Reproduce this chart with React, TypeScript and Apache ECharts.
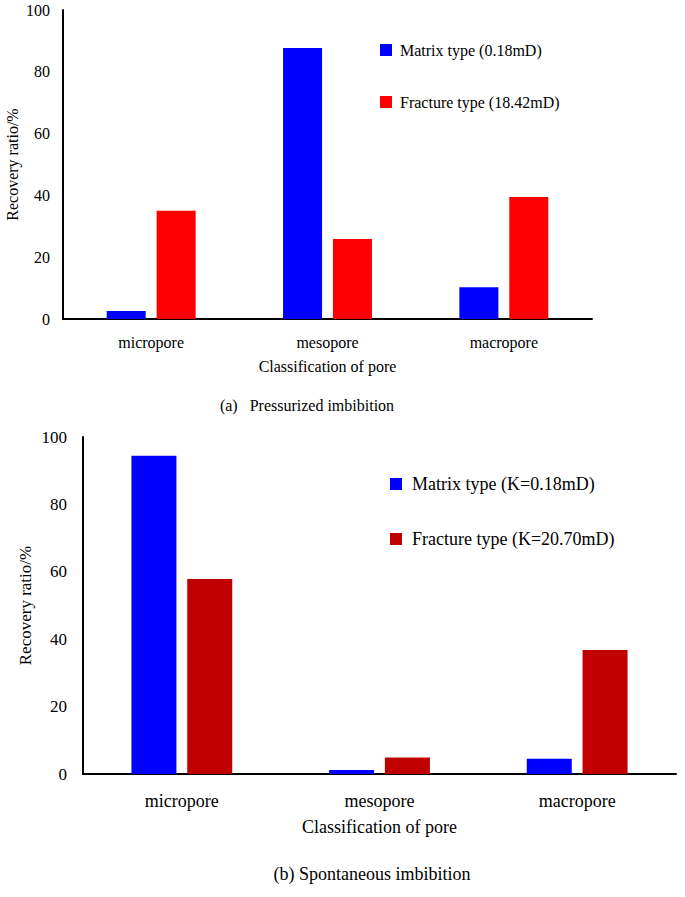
import React, { useEffect, useRef } from "react";
import * as echarts from "echarts";

const categories = ["micropore", "mesopore", "macropore"];
const yTicks = [0, 20, 40, 60, 80, 100];

const seriesNamesA = ["Matrix type (0.18mD)", "Fracture type (18.42mD)"];
const matrixA = [2.6, 87.7, 10.3];
const fractureA = [35.0, 25.9, 39.5];

const seriesNamesB = ["Matrix type (K=0.18mD)", "Fracture type (K=20.70mD)"];
const matrixB = [94.4, 1.2, 4.5];
const fractureB = [57.9, 4.9, 36.8];

const captionA = "(a)\u00A0\u00A0\u00A0Pressurized imbibition";
const captionB = "(b) Spontaneous imbibition";
const xName = "Classification of pore";
const yName = "Recovery ratio/%";

const FONT = "Times New Roman, Liberation Serif, DejaVu Serif, serif";

export default function App() {
  const ref = useRef<HTMLDivElement>(null);
  useEffect(() => {
    if (!ref.current) return;
    const chart = echarts.init(ref.current, null, { renderer: "svg" });
    const yAxisBase = (gridIndex: number, fs: number, margin: number, gap: number) => ({
      type: "value",
      gridIndex,
      min: 0,
      max: 100,
      interval: 20,
      name: yName,
      nameLocation: "middle",
      nameGap: gap,
      nameMoveOverlap: false,
      nameTextStyle: { fontSize: fs, color: "#000", fontFamily: FONT },
      axisLine: { show: true, lineStyle: { color: "#000", width: 2 } },
      axisTick: { show: false },
      splitLine: { show: false },
      axisLabel: {
        color: "#000",
        fontSize: fs,
        margin,
        fontFamily: FONT,
        formatter: (v: number) => (yTicks.includes(v) ? String(v) : ""),
      },
    });
    const xAxisBase = (gridIndex: number, fs: number, margin: number, gap: number) => ({
      type: "category",
      gridIndex,
      data: categories,
      name: xName,
      nameLocation: "middle",
      nameGap: gap,
      nameMoveOverlap: false,
      nameTextStyle: { fontSize: fs, color: "#000", fontFamily: FONT },
      axisLine: { show: true, lineStyle: { color: "#000", width: 2 } },
      axisTick: { show: false },
      axisLabel: { color: "#000", fontSize: fs, margin, fontFamily: FONT },
    });
    chart.setOption({
      animation: false,
      textStyle: { fontFamily: FONT },
      grid: [
        { left: 63, top: 10, width: 529, height: 309, outerBoundsMode: "none", containLabel: false },
        { left: 83, top: 437, width: 593, height: 337, outerBoundsMode: "none", containLabel: false },
      ],
      xAxis: [xAxisBase(0, 16, 15, 39), xAxisBase(1, 18, 18, 44)],
      yAxis: [yAxisBase(0, 16, 13, 43), yAxisBase(1, 17, 16, 49)],
      legend: [
        {
          data: seriesNamesA,
          orient: "vertical",
          left: 375,
          top: 37,
          itemGap: 36,
          itemWidth: 12,
          itemHeight: 12,
          icon: "rect",
          textStyle: { fontSize: 16, color: "#000", padding: [0, 0, 0, 3], fontFamily: FONT },
        },
        {
          data: seriesNamesB,
          orient: "vertical",
          left: 385,
          top: 470,
          itemGap: 37,
          itemWidth: 12,
          itemHeight: 12,
          icon: "rect",
          textStyle: { fontSize: 18, color: "#000", padding: [0, 0, 0, 5], fontFamily: FONT },
        },
      ],
      series: [
        {
          name: seriesNamesA[0],
          type: "bar",
          xAxisIndex: 0,
          yAxisIndex: 0,
          data: matrixA,
          barWidth: 39,
          barGap: "28%",
          itemStyle: { color: "#0000FF" },
        },
        {
          name: seriesNamesA[1],
          type: "bar",
          xAxisIndex: 0,
          yAxisIndex: 0,
          data: fractureA,
          barWidth: 39,
          barGap: "28%",
          itemStyle: { color: "#FF0000" },
        },
        {
          name: seriesNamesB[0],
          type: "bar",
          xAxisIndex: 1,
          yAxisIndex: 1,
          data: matrixB,
          barWidth: 45,
          barGap: "24%",
          itemStyle: { color: "#0000FF" },
        },
        {
          name: seriesNamesB[1],
          type: "bar",
          xAxisIndex: 1,
          yAxisIndex: 1,
          data: fractureB,
          barWidth: 45,
          barGap: "24%",
          itemStyle: { color: "#C00000" },
        },
      ],
      graphic: [
        {
          type: "text",
          x: 307,
          y: 405,
          style: {
            text: captionA,
            fontSize: 16,
            fontFamily: FONT,
            fill: "#000",
            align: "center",
            verticalAlign: "middle",
          },
        },
        {
          type: "text",
          x: 372,
          y: 874,
          style: {
            text: captionB,
            fontSize: 18,
            fontFamily: FONT,
            fill: "#000",
            align: "center",
            verticalAlign: "middle",
          },
        },
      ],
    });
    return () => chart.dispose();
  }, []);
  return (
    <div
      ref={ref}
      style={{ position: "absolute", left: 0, top: 0, width: 685, height: 897, background: "#fff" }}
    />
  );
}
